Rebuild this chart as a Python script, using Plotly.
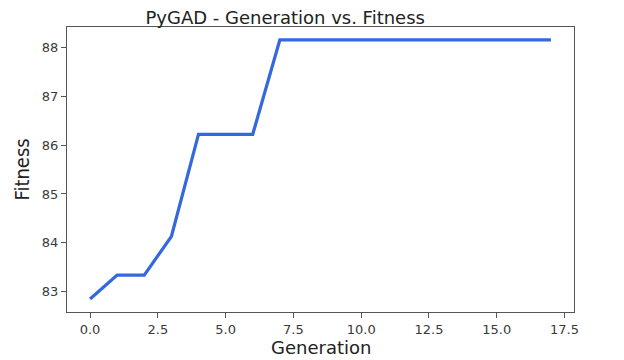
import plotly.graph_objects as go

generations = list(range(18))
fitness = [82.85, 83.34, 83.34, 84.13, 86.22, 86.22, 86.22, 88.15, 88.15, 88.15,
           88.15, 88.15, 88.15, 88.15, 88.15, 88.15, 88.15, 88.15]
x_ticks = [0, 2.5, 5, 7.5, 10, 12.5, 15, 17.5]
x_tick_labels = ["0.0", "2.5", "5.0", "7.5", "10.0", "12.5", "15.0", "17.5"]
y_ticks = [83, 84, 85, 86, 87, 88]

fig = go.Figure()
fig.add_trace(go.Scatter(x=generations, y=fitness, mode="lines",
                         line=dict(color="#3468e0", width=3.2)))

axis_common = dict(showline=True, linecolor="#555555", linewidth=1.3, mirror=True,
                   ticks="outside", ticklen=5, tickcolor="#555555", showgrid=False,
                   zeroline=False, automargin=False,
                   tickfont=dict(family="DejaVu Sans", size=13, color="#3a3a3a"))

fig.update_layout(
    width=616, height=352,
    paper_bgcolor="white", plot_bgcolor="white",
    margin=dict(l=59, r=50, t=19, b=48),
    showlegend=False,
    title=dict(text="PyGAD - Generation vs. Fitness", x=0.45, xanchor="center",
               y=0.972, yanchor="middle",
               font=dict(family="DejaVu Sans", size=18, color="#222222")),
    xaxis=dict(range=[-0.85, 17.85], tickvals=x_ticks, ticktext=x_tick_labels,
               **axis_common),
    yaxis=dict(range=[82.585, 88.415], tickvals=y_ticks, **axis_common),
)

fig.add_annotation(text="Generation", xref="paper", yref="paper", x=0.5, y=0,
                   xanchor="center", yanchor="middle", yshift=-35, showarrow=False,
                   font=dict(family="DejaVu Sans", size=18, color="#222222"))
fig.add_annotation(text="Fitness", xref="paper", yref="paper", x=0, y=0.5,
                   xanchor="center", yanchor="middle", xshift=-46, textangle=-90,
                   showarrow=False,
                   font=dict(family="DejaVu Sans Condensed", size=20, color="#222222"))

fig.write_html("out.html")
